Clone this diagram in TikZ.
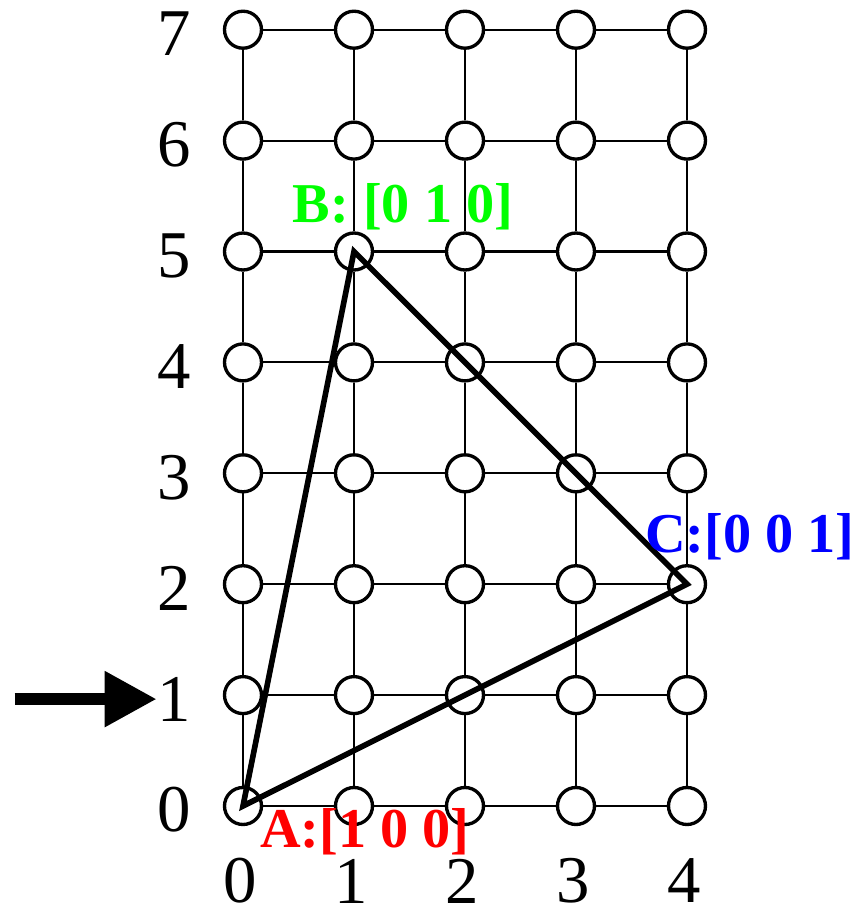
\documentclass[tikz,border=0pt]{standalone}
\usepackage{fontspec}
\setmainfont{Liberation Serif}
\usepackage{xcolor}
\usetikzlibrary{arrows.meta, positioning}

\definecolor{lblred}{RGB}{255,0,0}
\definecolor{lblgreen}{RGB}{0,255,0}
\definecolor{lblblue}{RGB}{0,0,255}

\begin{document}
\begin{tikzpicture}[
  vtx/.style={circle, minimum size=0.37cm, inner sep=0pt, draw=black, line width=0.95pt, fill=white},
  gridline/.style={line width=0.6pt},
  triline/.style={line width=1.6pt, line join=miter},
  axlbl/.style={inner sep=0pt, font=\fontsize{19}{22}\selectfont},
  ptlbl/.style={inner sep=0pt, anchor=base, font=\fontsize{16}{19}\selectfont\bfseries},
]
\useasboundingbox (0,0) rectangle (8.6,9.14);

% --- lattice points ---
\foreach \i in {0,...,4}
{
  \foreach \j in {0,...,7}
  {
    \node[vtx] (v\i\j) at (2.43+\i*1.11, 1.08+\j*1.109) {};
  }
}

% --- grid lines ---
\foreach \j in {0,...,7}
{
  \foreach \i/\k in {0/1, 1/2, 2/3, 3/4}
  {
    \draw[gridline] (v\i\j) -- (v\k\j);
  }
}
\foreach \i in {0,...,4}
{
  \foreach \j/\k in {0/1, 1/2, 2/3, 3/4, 4/5, 5/6, 6/7}
  {
    \draw[gridline] (v\i\j) -- (v\i\k);
  }
}

% --- axis numbers ---
\foreach \j in {0,...,7}
{
  \node[axlbl] (r\j) at (1.74, 1.04+\j*1.109) {\j};
}
\foreach \i in {0,...,4}
{
  \node[axlbl] (c\i) at (2.40+\i*1.11, 0.33) {\i};
}

% --- triangle ---
\draw[triline] (v00.center) -- (v15.center) -- (v42.center) -- cycle;

% --- vertex labels ---
\node[ptlbl, text=lblred] (albl) at (3.65, 0.66) {A:[1 0 0]};
\node[ptlbl, text=lblgreen] (blbl) at (4.03, 6.92) {B: [0 1 0]};
\node[ptlbl, text=lblblue] (clbl) at (7.50, 3.62) {C:[0 0 1]};

% --- arrow ---
\coordinate[left=1.42cm of r1.west] (arrtail);
\draw[-{Triangle[length=0.52cm, width=0.53cm]}, line width=3.4pt] (arrtail) -- (r1.west);

\end{tikzpicture}
\end{document}
